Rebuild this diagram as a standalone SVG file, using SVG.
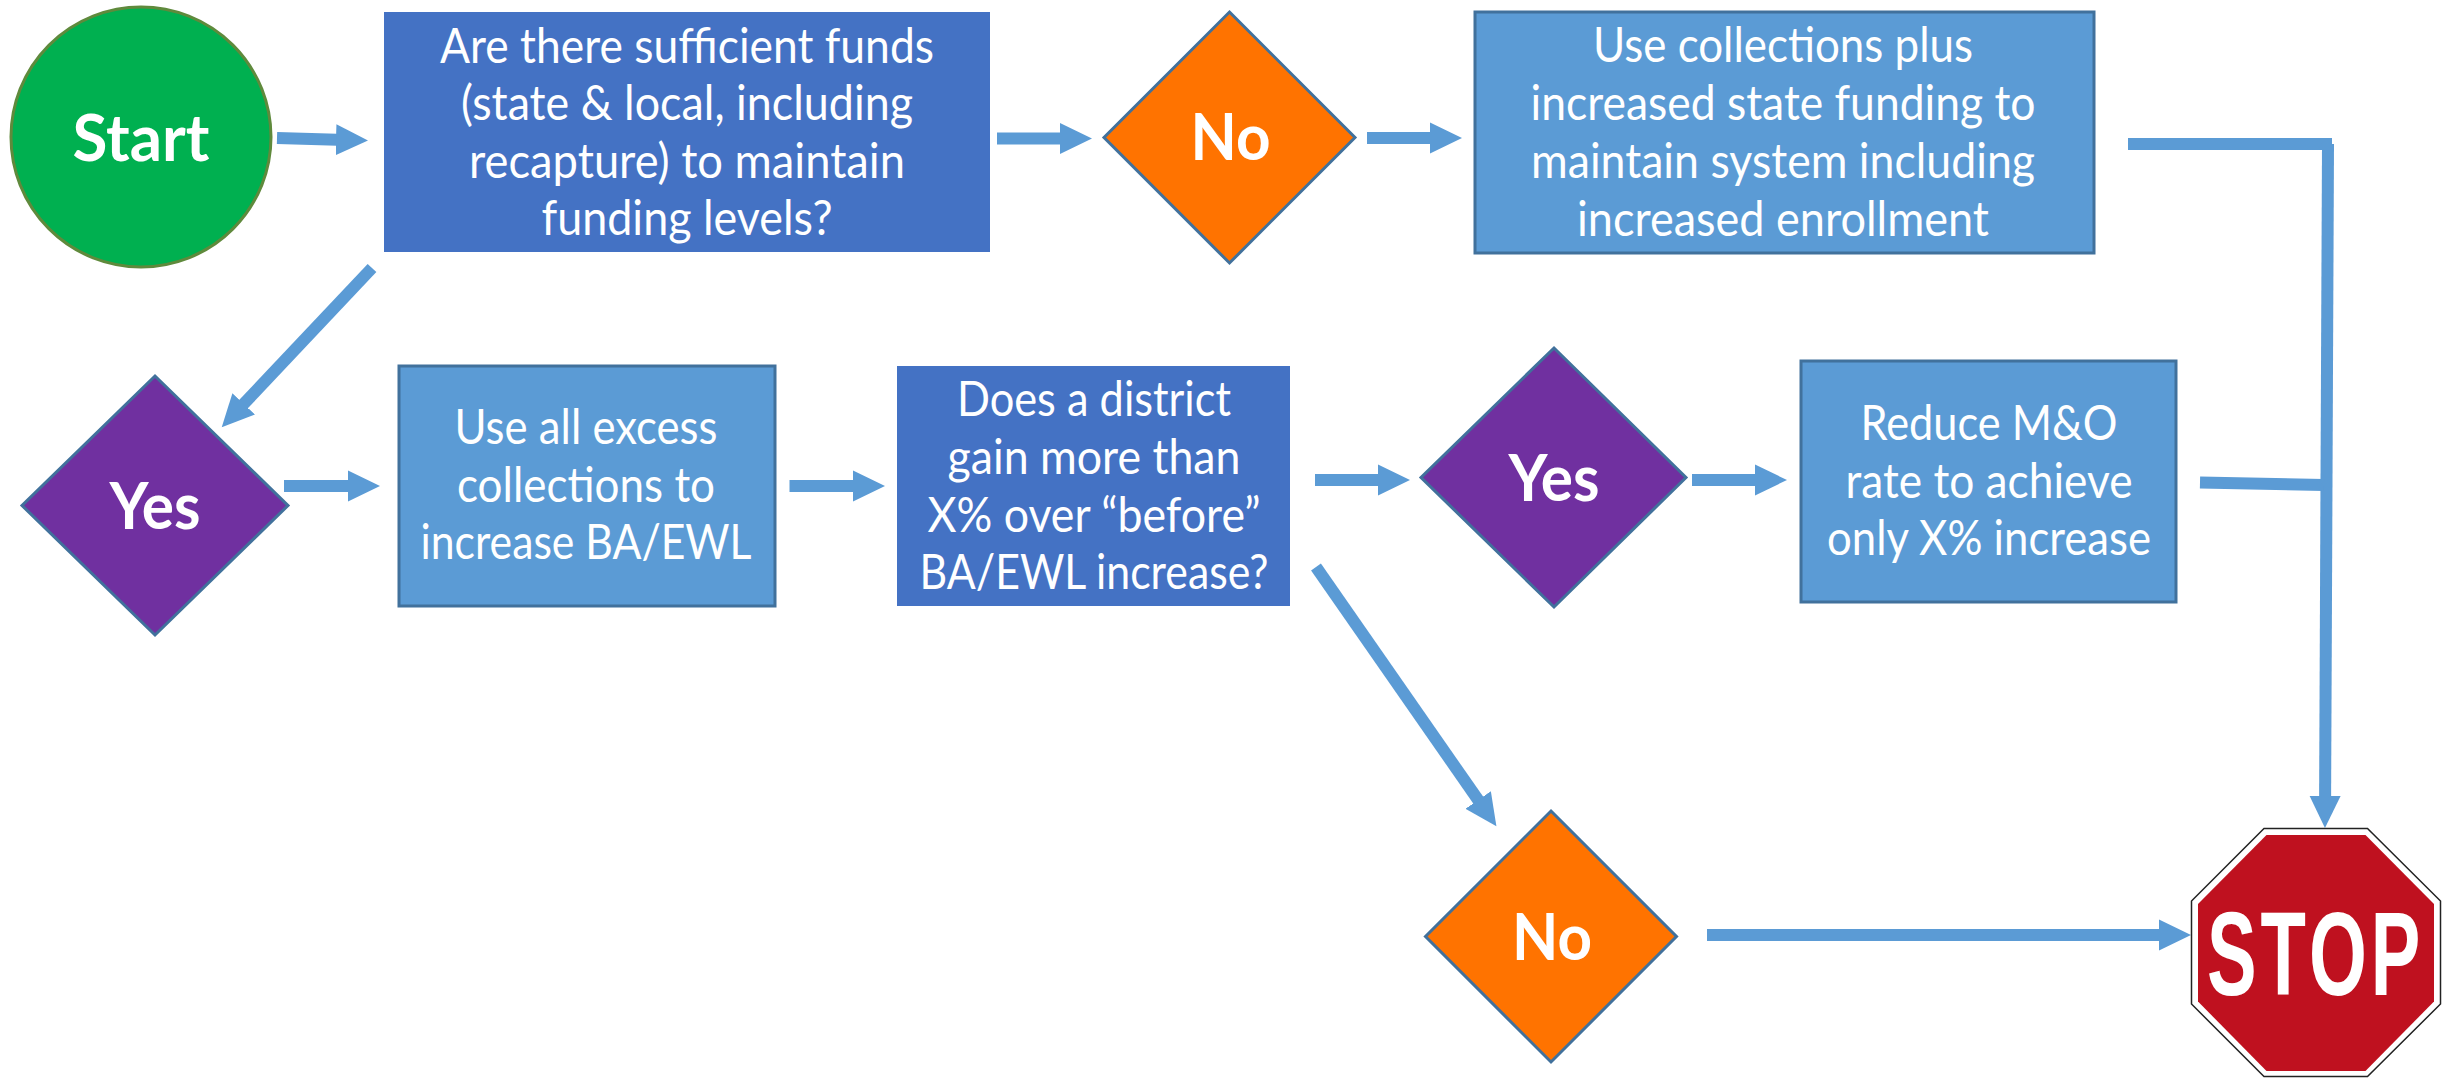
<svg xmlns="http://www.w3.org/2000/svg" width="2446" height="1078" viewBox="0 0 2446 1078">
<style>
text{font-family:Lato,"Open Sans","Liberation Sans",sans-serif;fill:#fff;text-anchor:middle}
.t{font-size:48px}
.b{font-size:65px;font-weight:700}
.dark{fill:#4472c4}
.light{fill:#5b9bd5;stroke:#41719c;stroke-width:3}
.purple{fill:#7030a0;stroke:#41719c;stroke-width:3}
.orange{fill:#ff7300;stroke:#41719c;stroke-width:3}
.c{fill:none;stroke:#5b9bd5;stroke-width:12}
.a{marker-end:url(#arrow)}
.sign{font-family:"Liberation Sans",sans-serif;font-weight:700;font-size:118px;text-anchor:start}
</style>
<defs>
<marker id="arrow" markerUnits="userSpaceOnUse" markerWidth="33" markerHeight="32" refX="1" refY="16" orient="auto">
<path d="M0,0.5 L32,16 L0,31.5 Z" fill="#5b9bd5"/>
</marker>
</defs>
<rect width="2446" height="1078" fill="#fff"/>
<g id="connectors">
<path class="c a" d="M277,138 L337,139.7"/>
<path class="c a" d="M997,138.5 L1061,138.5"/>
<path class="c a" d="M1367,138 L1431,138"/>
<path class="c a" d="M372,268 L243,404.7"/>
<path class="c a" d="M284,486 L349,486"/>
<path class="c a" d="M789.5,486 L854,486"/>
<path class="c a" d="M1315,480 L1379,480"/>
<path class="c a" d="M1692,480 L1756,480"/>
<path class="c a" d="M1316,567 L1478.7,800.8"/>
<path class="c a" d="M1707,935 L2160,935"/>
<path class="c" d="M2128,144 L2332,144"/>
<path class="c a" d="M2328,144 L2325.1,797"/>
<path class="c" d="M2200,482.5 L2324,485"/>
</g>
<g id="start">
<circle cx="141" cy="137" r="130" fill="#00b050" stroke="#5f8a3c" stroke-width="3"/>
<text class="b" x="141" y="161" textLength="137" lengthAdjust="spacingAndGlyphs">Start</text>
</g>
<g id="q-funds">
<rect class="dark" x="384" y="12" width="606" height="240"/>
<text class="t" x="687" y="63" textLength="494" lengthAdjust="spacingAndGlyphs">Are there sufficient funds</text>
<text class="t" x="687" y="120" textLength="452" lengthAdjust="spacingAndGlyphs">(state &amp; local, including</text>
<text class="t" x="687" y="178" textLength="436" lengthAdjust="spacingAndGlyphs">recapture) to maintain</text>
<text class="t" x="687" y="235" textLength="291" lengthAdjust="spacingAndGlyphs">funding levels?</text>
</g>
<g id="no-1">
<polygon class="orange" points="1229.5,12 1355,137.5 1229.5,263 1104,137.5"/>
<text class="b" x="1230.5" y="160" textLength="80" lengthAdjust="spacingAndGlyphs">No</text>
</g>
<g id="use-collections">
<rect class="light" x="1475" y="12" width="619" height="241"/>
<text class="t" x="1783" y="62" textLength="380" lengthAdjust="spacingAndGlyphs">Use collections plus</text>
<text class="t" x="1783" y="120" textLength="505" lengthAdjust="spacingAndGlyphs">increased state funding to</text>
<text class="t" x="1783" y="178" textLength="504" lengthAdjust="spacingAndGlyphs">maintain system including</text>
<text class="t" x="1783" y="236" textLength="412" lengthAdjust="spacingAndGlyphs">increased enrollment</text>
</g>
<g id="yes-1">
<polygon class="purple" points="155,376 288,505.5 155,635 22,505.5"/>
<text class="b" x="155" y="529" textLength="91" lengthAdjust="spacingAndGlyphs">Yes</text>
</g>
<g id="use-excess">
<rect class="light" x="399" y="366" width="376" height="240"/>
<text class="t" x="586" y="444" textLength="263" lengthAdjust="spacingAndGlyphs">Use all excess</text>
<text class="t" x="586" y="502" textLength="258" lengthAdjust="spacingAndGlyphs">collections to</text>
<text class="t" x="586" y="559" textLength="331" lengthAdjust="spacingAndGlyphs">increase BA/EWL</text>
</g>
<g id="q-district">
<rect class="dark" x="897" y="366" width="393" height="240"/>
<text class="t" x="1094" y="416" textLength="274" lengthAdjust="spacingAndGlyphs">Does a district</text>
<text class="t" x="1094" y="474" textLength="293" lengthAdjust="spacingAndGlyphs">gain more than</text>
<text class="t" x="1094" y="532" textLength="333" lengthAdjust="spacingAndGlyphs">X% over “before”</text>
<text class="t" x="1094" y="589" textLength="349" lengthAdjust="spacingAndGlyphs">BA/EWL increase?</text>
</g>
<g id="yes-2">
<polygon class="purple" points="1554,348 1686,477.5 1554,607 1421,477.5"/>
<text class="b" x="1554" y="501" textLength="91" lengthAdjust="spacingAndGlyphs">Yes</text>
</g>
<g id="reduce">
<rect class="light" x="1801" y="361" width="375" height="241"/>
<text class="t" x="1989" y="440" textLength="257" lengthAdjust="spacingAndGlyphs">Reduce M&amp;O</text>
<text class="t" x="1989" y="498" textLength="287" lengthAdjust="spacingAndGlyphs">rate to achieve</text>
<text class="t" x="1989" y="555" textLength="324" lengthAdjust="spacingAndGlyphs">only X% increase</text>
</g>
<g id="no-2">
<polygon class="orange" points="1551,811 1676.5,936.5 1551,1062 1425.5,936.5"/>
<text class="b" x="1552" y="960" textLength="80" lengthAdjust="spacingAndGlyphs">No</text>
</g>
<g id="stop">
<polygon points="2264,828.5 2367.5,828.5 2440.5,901 2440.5,1004 2367.5,1076.5 2264,1076.5 2191.5,1004 2191.5,901" fill="#fff" stroke="#222" stroke-width="1.5"/>
<polygon points="2266.5,835 2365.5,835 2434,904 2434,1001.5 2365.5,1071 2266.5,1071 2198,1001.5 2198,904" fill="#bf111f"/>
<text class="sign" transform="translate(0,995) scale(.63,1)" x="3503 3588 3665 3763" y="0">STOP</text>
</g>
</svg>
